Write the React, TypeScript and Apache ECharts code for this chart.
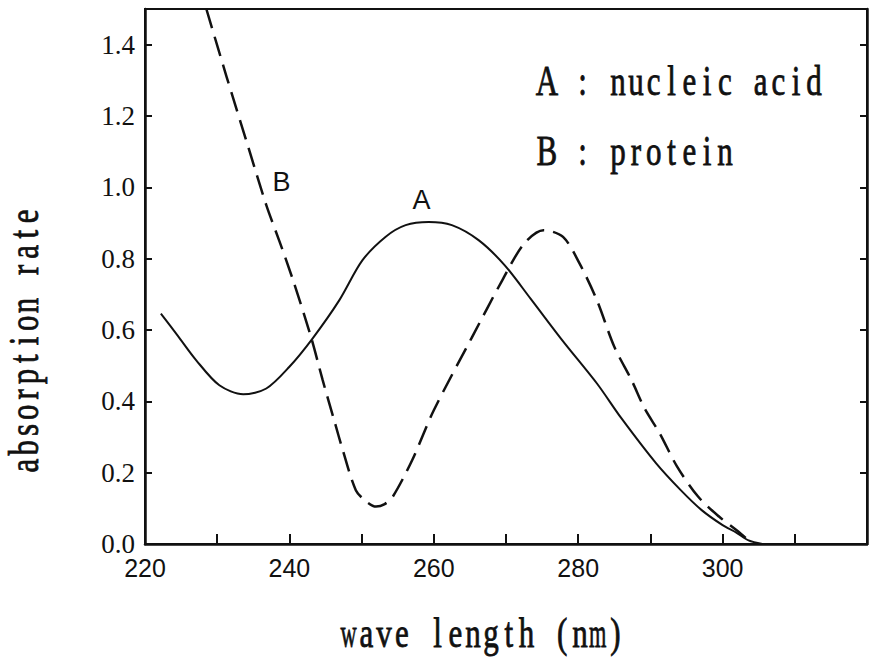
import React, { useEffect, useRef } from "react";
import * as echarts from "echarts";

// Curve A: nucleic acid (solid)
const wavelengthA = [222.2, 224.5, 227.1, 230.3, 233.6, 236.8, 240, 243.2, 246.9, 250.1, 253.3, 256.1, 259.3, 262.5, 266.2, 269.8, 273.4, 277.8, 282.6, 286, 290.8, 294.2, 297.1, 300, 301.9, 303.6, 305.5];
const absorbA = [0.646, 0.585, 0.515, 0.445, 0.42, 0.436, 0.497, 0.576, 0.683, 0.795, 0.861, 0.894, 0.903, 0.894, 0.852, 0.782, 0.688, 0.571, 0.45, 0.352, 0.226, 0.151, 0.095, 0.053, 0.032, 0.01, 0];

// Curve B: protein (dashed)
const wavelengthB = [228.5, 231.3, 234.5, 236.8, 238.6, 240.5, 243, 244.6, 246.2, 247.4, 249.2, 250.6, 252, 253.2, 254.3, 257, 260, 265.3, 269.5, 272.5, 275.2, 277.9, 280.2, 282.6, 285, 287.4, 289.2, 291.3, 293.7, 296.6, 299.5, 301.9, 303.6, 304.5];
const absorbB = [1.5, 1.31, 1.1, 0.95, 0.85, 0.74, 0.58, 0.46, 0.347, 0.263, 0.151, 0.12, 0.105, 0.112, 0.132, 0.235, 0.375, 0.58, 0.74, 0.842, 0.88, 0.861, 0.786, 0.683, 0.553, 0.459, 0.38, 0.31, 0.217, 0.133, 0.077, 0.039, 0.011, 0];

// Axis ranges / ticks
const xMin = 220;
const xMax = 320;
const xTickStep = 10;
const xLabelStep = 20;
const xLastLabel = 300;
const yMin = 0;
const yMax = 1.5;
const yTickStep = 0.2;

// Texts
const xTitle = "wave length (nm)";
const yTitle = "absorption rate";
const legendTexts = ["A : nucleic acid", "B : protein"];
const curveLabels = ["A", "B"];
const curveLabelPos = [
  [258.3, 0.964],
  [238.9, 1.016],
];

const TYPE_FONT = "Liberation Serif";
const ADV = 17.8;
const WIDE = "mwMW";

// typewriter-like text: one glyph per fixed-width slot, stretched vertically
function tallText(text: string, x: number, y: number, align: string, rotation = 0) {
  const chars = text.split("");
  const total = chars.length * ADV;
  const start = align === "center" ? -total / 2 : 0;
  return {
    type: "group",
    x,
    y,
    rotation,
    scaleY: 1.38,
    children: chars
      .map((c, i) =>
        c === " "
          ? null
          : {
              type: "text",
              x: start + (i + 0.5) * ADV,
              y: 0,
              scaleX: WIDE.includes(c) ? 0.72 : 1,
              style: {
                text: c,
                fontFamily: TYPE_FONT,
                fontSize: 31,
                fill: "#111",
                stroke: "#111",
                lineWidth: 0.6,
                textAlign: "center",
                textVerticalAlign: "middle",
              },
            }
      )
      .filter(Boolean),
  };
}

export default function App() {
  const ref = useRef<HTMLDivElement>(null);
  useEffect(() => {
    if (!ref.current) return;
    const chart = echarts.init(ref.current, undefined, { renderer: "svg" });
    const dataA = wavelengthA.map((w, i) => [w, absorbA[i]]);
    const dataB = wavelengthB.map((w, i) => [w, absorbB[i]]);
    const yAxisBase = {
      type: "value",
      min: yMin,
      max: yMax,
      interval: yTickStep,
      splitLine: { show: false },
      axisLine: { show: true, lineStyle: { color: "#111", width: 2.5 } },
      axisTick: { show: true, inside: true, length: 7, lineStyle: { color: "#111", width: 2 } },
    };
    chart.setOption({
      animation: false,
      backgroundColor: "#fff",
      grid: {
        left: 145,
        right: 6,
        top: 9,
        bottom: 114,
        show: true,
        borderColor: "#111",
        borderWidth: 2,
      },
      xAxis: {
        type: "value",
        min: xMin,
        max: xMax,
        interval: xTickStep,
        splitLine: { show: false },
        axisLine: { show: true, lineStyle: { color: "#111", width: 2.5 } },
        axisTick: { show: true, inside: true, length: 10, lineStyle: { color: "#111", width: 2 } },
        axisLabel: {
          margin: 11,
          fontFamily: "Liberation Sans",
          fontSize: 25,
          color: "#111",
          formatter: (v: number) =>
            Math.round(v) % xLabelStep === 0 && v <= xLastLabel ? String(Math.round(v)) : "",
        },
      },
      yAxis: [
        {
          ...yAxisBase,
          position: "left",
          axisLabel: {
            margin: 10,
            fontFamily: "Liberation Serif",
            fontSize: 27,
            color: "#111",
            formatter: (v: number) => {
              const k = Math.round(v * 10);
              return k % 2 === 0 && v <= 1.45 ? v.toFixed(1) : "";
            },
          },
        },
        {
          ...yAxisBase,
          position: "right",
          axisLabel: { show: false },
        },
      ],
      series: [
        {
          type: "line",
          data: dataA,
          smooth: 0.3,
          symbol: "none",
          lineStyle: { color: "#111", width: 2 },
          z: 3,
        },
        {
          type: "line",
          data: dataB,
          smooth: 0.3,
          symbol: "none",
          lineStyle: { color: "#111", width: 2.5, type: [20, 9] },
          z: 3,
        },
        {
          type: "scatter",
          silent: true,
          symbolSize: 0,
          itemStyle: { opacity: 1, color: "#111" },
          data: curveLabelPos,
          label: {
            show: true,
            position: "inside",
            formatter: (p: any) => curveLabels[p.dataIndex],
            fontFamily: "Liberation Sans",
            fontSize: 27,
            color: "#111",
            opacity: 1,
          },
        },
      ],
      graphic: [
        tallText(legendTexts[0], 538, 81, "left"),
        tallText(legendTexts[1], 538, 151, "left"),
        tallText(xTitle, 482, 633, "center"),
        tallText(yTitle, 24, 341, "center", Math.PI / 2),
      ],
    });
    return () => chart.dispose();
  }, []);
  return (
    <div
      ref={ref}
      style={{ position: "fixed", left: 0, top: 0, width: 873, height: 658, background: "#fff" }}
    />
  );
}
